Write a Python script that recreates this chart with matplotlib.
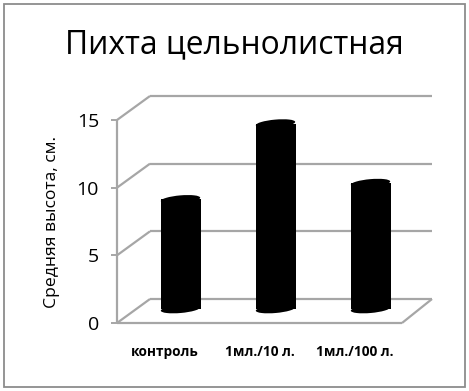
import matplotlib
matplotlib.use("Agg")
import matplotlib.pyplot as plt
from matplotlib.patches import Ellipse, Rectangle
from matplotlib.transforms import Affine2D

categories = ["контроль", "1мл./10 л.", "1мл./100 л."]
heights = [8.1, 13.7, 9.3]
y_ticks = [0, 5, 10, 15]
title = "Пихта цельнолистная"
y_label = "Средняя высота, см."

W, H = 469, 391
plt.rcParams["font.family"] = ["Open Sans", "DejaVu Sans"]
fig = plt.figure(figsize=(W / 100, H / 100), dpi=100)
fig.patch.set_facecolor("white")

fig.add_artist(Rectangle((4 / W, 1 - 387 / H), 461 / W, 383 / H, transform=fig.transFigure,
                         fc="none", ec="#8c8c8c", lw=1.3))

# front plane of the oblique 3-D box
left, right, bottom, top = 117, 402, 323, 120
ax = fig.add_axes([left / W, 1 - bottom / H, (right - left) / W, (bottom - top) / H])
ax.set_xlim(0, 3)
ax.set_ylim(0, 15)
ax.patch.set_alpha(0)
for s in ax.spines.values():
    s.set_visible(False)

def shift(dx, dy):
    return ax.transData + Affine2D().translate(dx, dy)

DX, DY = 33, 24
GRID = "#a6a6a6"
LINE = dict(color=GRID, lw=1.6, clip_on=False, zorder=1, solid_capstyle="butt")
for v in y_ticks:
    ax.plot([0, 2.97], [v, v], transform=shift(DX, DY), **LINE)
    x0, y0 = ax.transData.transform((0, v))
    ax.plot([x0, x0 + DX], [y0, y0 + DY], transform=None, **LINE)
ax.plot([0, 3], [0, 0], **LINE)
ax.plot([0, 0], [0, 15], **LINE)
xr, yr = ax.transData.transform((3, 0))
ax.plot([xr, xr + DX - 3], [yr, yr + DY], transform=None, **LINE)

ax.set_xticks([0.5, 1.5, 2.5], categories, fontsize=9.8, fontweight="bold")
ax.set_yticks(y_ticks)
ax.tick_params(axis="x", length=0, pad=16)
ax.tick_params(axis="y", length=4, width=1.4, color=GRID, labelsize=14, pad=9)
ax.set_ylabel(y_label, fontsize=12.6, labelpad=12)

# cylinders
bar_w = 40 / 95
CX, CY = 16, 14
ax.bar([0.5, 1.5, 2.5], heights, width=bar_w, color="black", transform=shift(CX, CY), zorder=3, clip_on=False)
for i, h in enumerate(heights):
    for v in (0, h):
        xp, yp = ax.transData.transform((i + 0.5, v))
        ax.add_patch(Ellipse((0, 0), 39.5, 8, angle=5, fc="black", ec="none",
                             transform=Affine2D().translate(xp + CX, yp + CY), zorder=3, clip_on=False))

fig.text(234.5 / W, 1 - 45 / H, title, fontsize=22.9, ha="center", va="center")
fig.savefig("out.png", dpi=100)
